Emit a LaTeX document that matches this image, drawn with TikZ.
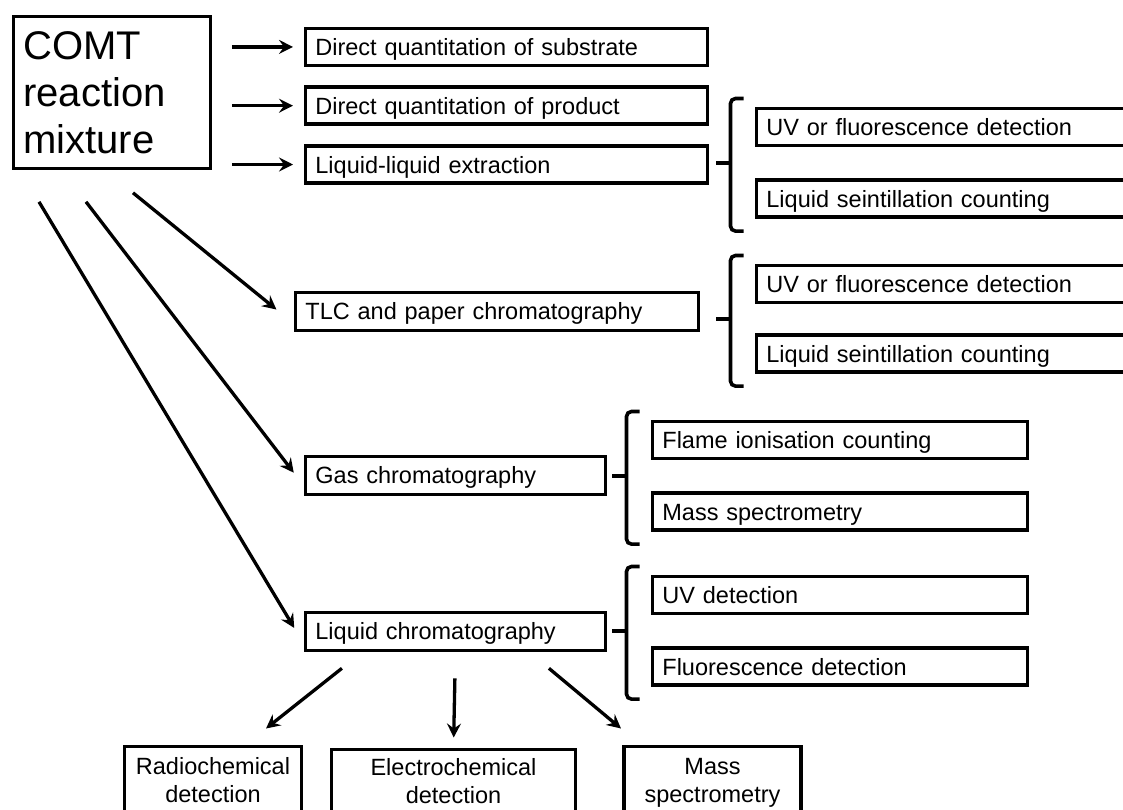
\documentclass[tikz,border=0pt]{standalone}
\usepackage{fontspec}
\setmainfont{Liberation Sans}
\usepackage{tikz}
\usetikzlibrary{arrows.meta, positioning, calc}

\newcommand{\boxfont}{\fontsize{23.5}{28}\selectfont}
\newcommand{\bigfont}{\fontsize{40}{47}\selectfont}

% bracket from the first to the last box of a group
\newcommand{\group}[2]{%
  \draw[brace] ($(#1.north west)+(-11,-8)$) -- ($(#1.north west)+(-24,-8)$)
    -- ($(#2.south west)+(-24,12)$) -- ($(#2.south west)+(-11,12)$);
  \draw[brace] ($(#1.north west)!0.5!(#2.south west)+(-24,0)$) -- ++(-15,0);
}

\begin{document}
\begin{tikzpicture}[
  x=1pt, y=-1pt,
  box/.style={
    rectangle, draw, line width=3.8pt,
    inner ysep=0pt, font=\boxfont
  },
  method/.style={
    box, text width=#1, align=left, inner xsep=10pt,
    text height=17pt, text depth=0pt, minimum height=37pt
  },
  detector/.style={
    box, text width=#1, align=center, inner xsep=4pt,
    text height=17pt, text depth=35pt,
    minimum height=75pt, anchor=north
  },
  arrow/.style={-{Stealth[length=14pt,width=14pt,inset=5pt]}, line width=3.3pt},
  brace/.style={line width=3.6pt, rounded corners=5pt}
]
\useasboundingbox (0,0) rectangle (1123,809);
\clip (0,0) rectangle (1123,809);

\node[box, text width=177pt, align=left, inner xsep=10pt,
      minimum height=152pt, anchor=north west, font=\bigfont]
  (mix) at (11.5,14.5) {COMT\\reaction\\mixture};

% direct routes
\node[method=382pt, anchor=north west] (sub) at (303.5,26.5)
  {Direct quantitation of substrate};
\node[method=382pt, below=18pt of sub] (prod)
  {Direct quantitation of product};
\node[method=382pt, below=18pt of prod] (lle)
  {Liquid-liquid extraction};

\node[method=365pt, anchor=north west] (uv1) at (754.5,106.5)
  {UV or fluorescence detection};
\node[method=365pt, below=31pt of uv1] (lsc1)
  {Liquid seintillation counting};

% chromatography
\node[method=383pt, minimum height=38pt, anchor=north west] (tlc) at (293.5,290.5)
  {TLC and paper chromatography};
\node[method=365pt, anchor=north west] (uv2) at (754.5,263.5)
  {UV or fluorescence detection};
\node[method=365pt, below=29pt of uv2] (lsc2)
  {Liquid seintillation counting};

\node[method=280pt, minimum height=38pt, anchor=north west] (gc) at (303.5,454.5)
  {Gas chromatography};
\node[method=355pt, anchor=north west] (fid) at (650.5,419.5)
  {Flame ionisation counting};
\node[method=355pt, below=31pt of fid] (gcms)
  {Mass spectrometry};

\node[method=280pt, minimum height=38pt, anchor=north west] (lc) at (303.5,610.5)
  {Liquid chromatography};
\node[method=355pt, anchor=north west] (uvd) at (650.5,574.5)
  {UV detection};
\node[method=355pt, below=31pt of uvd] (fld)
  {Fluorescence detection};

\node[detector=169pt] (rad) at (213,744.5) {Radiochemical\\detection};
\node[detector=236pt, text depth=40pt] (ecd) at (453.5,747.5) {Electrochemical\\detection};
\node[detector=169pt] (lcms) at (712.5,744.5) {Mass\\spectrometry};

% arrows
\foreach \t in {sub,prod,lle}
  \draw[arrow, shorten <=19.5pt, shorten >=10.5pt] (mix.east |- \t.west) -- (\t.west);

\coordinate (d1) at ($(mix.south west)+(121.5,22.5)$);
\coordinate (d2) at ($(mix.south west)+(74.5,31.5)$);
\coordinate (d3) at ($(mix.south west)+(27.5,31.5)$);
\draw[arrow, shorten >=22pt] (d1) -- ([yshift=-12pt]tlc.west);
\draw[arrow, shorten >=16pt] (d2) -- ([yshift=-10pt]gc.west);
\draw[arrow, shorten >=18pt] (d3) -- ([yshift=-12pt]lc.west);

\draw[arrow] ([xshift=-113.5pt,yshift=-16pt]lc.south) -- ([xshift=53pt,yshift=16pt]rad.north);
\draw[arrow, shorten <=26pt, shorten >=10pt] (lc.south) -- (ecd.north);
\draw[arrow] ([xshift=93.5pt,yshift=-16pt]lc.south) -- ([xshift=-91.5pt,yshift=16pt]lcms.north);

% brackets
\group{uv1}{lsc1}
\group{uv2}{lsc2}
\group{fid}{gcms}
\group{uvd}{fld}
\end{tikzpicture}
\end{document}
